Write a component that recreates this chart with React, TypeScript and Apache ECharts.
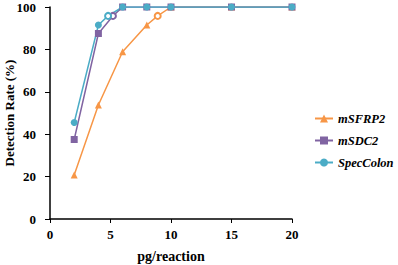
import React, { useEffect, useRef } from "react";
import * as echarts from "echarts";

const seriesNames = ["mSFRP2", "mSDC2", "SpecColon"];
const mSFRP2X = [2, 4, 6, 8, 8.9, 10, 15, 20];
const mSFRP2Y = [20.8, 53.8, 78.9, 91.5, 95.8, 100, 100, 100];
const mSDC2X = [2, 4, 5.2, 6, 8, 10, 15, 20];
const mSDC2Y = [37.5, 87.5, 95.8, 100, 100, 100, 100, 100];
const specX = [2, 4, 4.8, 6, 8, 10, 15, 20];
const specY = [45.5, 91.5, 95.8, 100, 100, 100, 100, 100];
const hollowX = [8.9, 5.2, 4.8];
const colors = ["#F79646", "#8064A2", "#4BACC6"];
const symbols = ["triangle", "rect", "circle"];
const xTitle = "pg/reaction";
const yTitle = "Detection Rate (%)";

const FONT = "Liberation Serif";

export default function App() {
  const ref = useRef<HTMLDivElement>(null);
  useEffect(() => {
    if (!ref.current) return;
    const chart = echarts.init(ref.current, null, { renderer: "svg" });
    const xs = [mSFRP2X, mSDC2X, specX];
    const ys = [mSFRP2Y, mSDC2Y, specY];
    const series = seriesNames.map((name, i) => ({
      name,
      type: "line",
      data: xs[i].map((x, j) =>
        x === hollowX[i]
          ? { value: [x, ys[i][j]], symbol: "emptyCircle", symbolSize: 6 }
          : [x, ys[i][j]]
      ),
      symbol: symbols[i],
      symbolSize: 7,
      showSymbol: true,
      lineStyle: { color: colors[i], width: 1.5 },
      itemStyle: { color: colors[i] },
    }));
    chart.setOption({
      animation: false,
      backgroundColor: "#fff",
      textStyle: { fontFamily: FONT },
      grid: { left: 50, right: 106, top: 7, bottom: 46, containLabel: false, outerBoundsMode: "none" },
      legend: {
        orient: "vertical",
        left: 309,
        top: 107,
        itemWidth: 18,
        itemHeight: 10,
        itemGap: 9,
        data: seriesNames,
        textStyle: { fontFamily: FONT, fontWeight: "bold", fontStyle: "italic", fontSize: 12.5, color: "#000" },
      },
      xAxis: {
        type: "value",
        min: 0,
        max: 20,
        interval: 5,
        name: xTitle,
        nameLocation: "middle",
        nameGap: 30,
        nameMoveOverlap: false,
        nameTextStyle: { fontFamily: FONT, fontWeight: "bold", fontSize: 14, color: "#000" },
        axisLine: { lineStyle: { color: "#000", width: 1.5 } },
        axisTick: { show: true, length: 4, lineStyle: { color: "#000" } },
        axisLabel: { fontFamily: FONT, fontWeight: "bold", fontSize: 13, color: "#000", margin: 9 },
        splitLine: { show: false },
      },
      yAxis: {
        type: "value",
        min: 0,
        max: 100,
        interval: 20,
        name: yTitle,
        nameLocation: "middle",
        nameGap: 34,
        nameMoveOverlap: false,
        nameTextStyle: { fontFamily: FONT, fontWeight: "bold", fontSize: 13, color: "#000" },
        axisLine: { show: true, lineStyle: { color: "#000", width: 1.5 } },
        axisTick: { show: true, length: 5, lineStyle: { color: "#000" } },
        axisLabel: { fontFamily: FONT, fontWeight: "bold", fontSize: 13, color: "#000", margin: 14 },
        splitLine: { show: false },
      },
      series,
    });
    return () => chart.dispose();
  }, []);
  return <div ref={ref} style={{ width: 398, height: 265, position: "absolute", left: 0, top: 0 }} />;
}
